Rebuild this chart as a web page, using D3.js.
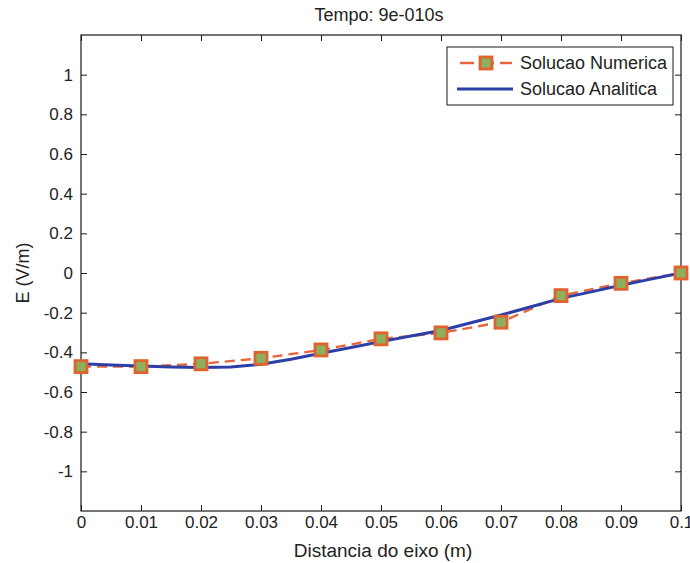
<!DOCTYPE html>
<html>
<head>
<meta charset="utf-8">
<script src="https://cdn.jsdelivr.net/npm/d3@7"></script>
<style>
  html, body { margin: 0; padding: 0; background: #fff; }
  svg { display: block; }
  text { font-family: "Liberation Sans", Arial, sans-serif; fill: #222; }
</style>
</head>
<body>
<svg id="chart" width="690" height="563"></svg>
<script>
// ---- Data ----
const title = "Tempo: 9e-010s";
const xLabel = "Distancia do eixo (m)";
const yLabel = "E (V/m)";
const seriesNames = ["Solucao Numerica", "Solucao Analitica"];

const numX = [0, 0.01, 0.02, 0.03, 0.04, 0.05, 0.06, 0.07, 0.08, 0.09, 0.1];
const numY = [-0.472, -0.472, -0.458, -0.430, -0.388, -0.332, -0.302, -0.248, -0.114, -0.052, 0];

const anaX = [0, 0.005, 0.01, 0.015, 0.02, 0.025, 0.03, 0.035, 0.04, 0.045, 0.05,
              0.055, 0.06, 0.065, 0.07, 0.075, 0.08, 0.085, 0.09, 0.095, 0.1];
const anaY = [-0.458, -0.464, -0.469, -0.474, -0.477, -0.474, -0.460, -0.435, -0.405, -0.376, -0.346,
              -0.318, -0.290, -0.251, -0.212, -0.170, -0.128, -0.095, -0.062, -0.031, 0];

const xTicks = [0, 0.01, 0.02, 0.03, 0.04, 0.05, 0.06, 0.07, 0.08, 0.09, 0.1];
const xTickLabels = ["0", "0.01", "0.02", "0.03", "0.04", "0.05", "0.06", "0.07", "0.08", "0.09", "0.1"];
const yTicks = [-1, -0.8, -0.6, -0.4, -0.2, 0, 0.2, 0.4, 0.6, 0.8, 1];
const yTickLabels = ["-1", "-0.8", "-0.6", "-0.4", "-0.2", "0", "0.2", "0.4", "0.6", "0.8", "1"];

// ---- Layout ----
const pLeft = 81, pRight = 681, pTop = 35, pBottom = 511;
const tickFont = 17;
const svg = d3.select("#chart");

const x = d3.scaleLinear().domain([0, 0.1]).range([pLeft, pRight]);
const y = d3.scaleLinear().domain([-1.2, 1.2]).range([pBottom, pTop]);

const tickLen = 6;
const axisColor = "#1a1a1a";
const ff = '"Liberation Sans", Arial, sans-serif';

// Bottom axis (ticks inward)
const xAxis = d3.axisBottom(x).tickValues(xTicks)
  .tickFormat((d, i) => xTickLabels[i]).tickSizeInner(-tickLen).tickSizeOuter(0).tickPadding(5);
const gx = svg.append("g").attr("transform", `translate(0,${pBottom})`).call(xAxis);
gx.select(".domain").remove();
gx.selectAll("line").attr("stroke", axisColor);
gx.selectAll("text").attr("font-size", tickFont).style("font-family", ff).attr("fill", "#222");

// Top ticks
const xTop = d3.axisTop(x).tickValues(xTicks).tickFormat("").tickSizeInner(-tickLen).tickSizeOuter(0);
const gxt = svg.append("g").attr("transform", `translate(0,${pTop})`).call(xTop);
gxt.select(".domain").remove();
gxt.selectAll("line").attr("stroke", axisColor);

// Left axis
const yAxis = d3.axisLeft(y).tickValues(yTicks)
  .tickFormat((d, i) => yTickLabels[i]).tickSizeInner(-tickLen).tickSizeOuter(0).tickPadding(8);
const gy = svg.append("g").attr("transform", `translate(${pLeft},0)`).call(yAxis);
gy.select(".domain").remove();
gy.selectAll("line").attr("stroke", axisColor);
gy.selectAll("text").attr("font-size", tickFont).style("font-family", ff).attr("fill", "#222");

// Right ticks
const yRight = d3.axisRight(y).tickValues(yTicks).tickFormat("").tickSizeInner(-tickLen).tickSizeOuter(0);
const gyr = svg.append("g").attr("transform", `translate(${pRight},0)`).call(yRight);
gyr.select(".domain").remove();
gyr.selectAll("line").attr("stroke", axisColor);

// Box
svg.append("rect").attr("x", pLeft).attr("y", pTop)
  .attr("width", pRight - pLeft).attr("height", pBottom - pTop)
  .attr("fill", "none").attr("stroke", axisColor).attr("stroke-width", 1.2);

// Titles
svg.append("text").attr("x", 379).attr("y", 21)
  .attr("text-anchor", "middle").attr("font-size", 18).text(title);
svg.append("text").attr("x", 383).attr("y", 557)
  .attr("text-anchor", "middle").attr("font-size", 19).text(xLabel);
svg.append("text").attr("transform", `translate(29,${(pTop + pBottom) / 2}) rotate(-90)`)
  .attr("text-anchor", "middle").attr("font-size", 18).text(yLabel);

// Lines
const numColor = "#e8643a";
const markerEdge = "#e0622e";
const markerFill = "#8fae5e";
const anaColor = "#2c3fa6";

const numData = numX.map((v, i) => [v, numY[i]]);
const anaData = anaX.map((v, i) => [v, anaY[i]]);
const line = d3.line().x(d => x(d[0])).y(d => y(d[1]));

svg.append("path").datum(numData).attr("d", line)
  .attr("fill", "none").attr("stroke", numColor).attr("stroke-width", 2.3)
  .attr("stroke-dasharray", "10,6");

svg.append("path").datum(anaData).attr("d", line)
  .attr("fill", "none").attr("stroke", anaColor).attr("stroke-width", 3);

const ms = 12;
svg.append("g").selectAll("rect").data(numData).join("rect")
  .attr("x", d => x(d[0]) - ms / 2).attr("y", d => y(d[1]) - ms / 2)
  .attr("width", ms).attr("height", ms)
  .attr("fill", markerFill).attr("stroke", markerEdge).attr("stroke-width", 2.8);

// Legend
const lg = svg.append("g");
lg.append("rect").attr("x", 447).attr("y", 47).attr("width", 226).attr("height", 58)
  .attr("fill", "#fff").attr("stroke", axisColor).attr("stroke-width", 1);
const r1 = 63, r2 = 89;
lg.append("line").attr("x1", 460).attr("x2", 512).attr("y1", r1).attr("y2", r1)
  .attr("stroke", numColor).attr("stroke-width", 2.3).attr("stroke-dasharray", "14,6");
lg.append("rect").attr("x", 486 - ms / 2).attr("y", r1 - ms / 2).attr("width", ms).attr("height", ms)
  .attr("fill", markerFill).attr("stroke", markerEdge).attr("stroke-width", 2.8);
lg.append("line").attr("x1", 457).attr("x2", 513).attr("y1", r2).attr("y2", r2)
  .attr("stroke", anaColor).attr("stroke-width", 3);
lg.append("text").attr("x", 520).attr("y", r1).attr("dy", "0.35em").attr("font-size", 18).text(seriesNames[0]);
lg.append("text").attr("x", 520).attr("y", r2).attr("dy", "0.35em").attr("font-size", 18).text(seriesNames[1]);
</script>
</body>
</html>
